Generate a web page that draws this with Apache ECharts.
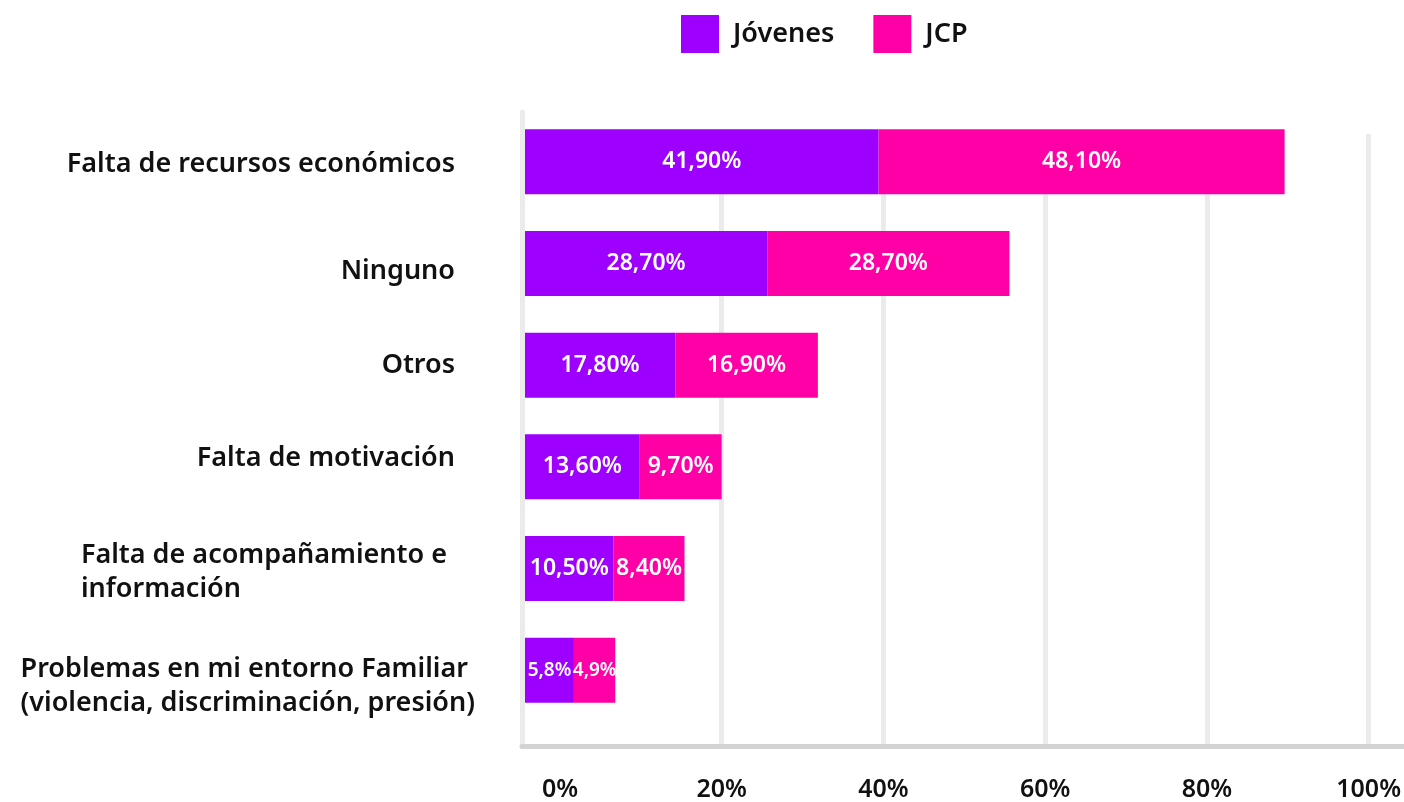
<!DOCTYPE html>
<html>
<head>
<meta charset="utf-8">
<script src="https://cdn.jsdelivr.net/npm/echarts@6/dist/echarts.min.js"></script>
<style>html,body{margin:0;padding:0;background:#fff}#c{width:1404px;height:802px}</style>
</head>
<body>
<div id="c"></div>
<script>
const categories = ['Falta de recursos económicos', 'Ninguno', 'Otros', 'Falta de motivación', 'Falta de acompañamiento e\ninformación', 'Problemas en mi entorno Familiar\n(violencia, discriminación, presión)'];
const jovenes = [41.9, 28.7, 17.8, 13.6, 10.5, 5.8];
const jcp = [48.1, 28.7, 16.9, 9.7, 8.4, 4.9];
const labelDecimals = [2, 2, 2, 2, 2, 1];
const xTickLabels = [0, 20, 40, 60, 80, 100];
const gridLineValues = [20, 40, 60, 80, 100];

// label nudges (styling only): [top, right, bottom, left] padding per category label
const catLabelPadding = [[4, 0, 0, 0], [16, 0, 0, 0], [0, 0, 0, 0], [0, 0, 18, 0], [8, 8, 0, 0], [32, -20, 0, 0]];

const FONT = '"Noto Sans", sans-serif';
const chart = echarts.init(document.getElementById('c'));

function fmt(p) {
  return p.value.toFixed(labelDecimals[p.dataIndex]).replace('.', ',') + '%';
}
function barLabel() {
  return {
    show: true, position: 'inside', color: '#fff', fontFamily: FONT, fontWeight: 600,
    fontSize: 23, formatter: fmt
  };
}
function mkData(arr) {
  return arr.map((v, i) => i === 5 ? { value: v, label: { fontSize: 19 } } : v);
}

chart.setOption({
  animation: false,
  textStyle: { fontFamily: FONT },
  legend: {
    data: ['Jóvenes', 'JCP'], left: 681, top: 15, padding: 0, icon: 'rect', itemWidth: 38, itemHeight: 38,
    itemGap: 39,
    textStyle: { fontFamily: FONT, fontSize: 27, fontWeight: 600, color: '#111', padding: [0, 0, 0, 9] }
  },
  grid: [
    { left: 525, right: 35, top: 111, height: 610 },
    { left: 522, right: 0, top: 112, bottom: 56 },
    { left: 522, right: 0, top: 134, bottom: 56 }
  ],
  xAxis: [
    { gridIndex: 0, type: 'value', min: 0, max: 100, show: false },
    {
      gridIndex: 1, type: 'value', min: 0, max: 1, position: 'bottom',
      axisLine: { show: true, onZero: false, lineStyle: { color: '#d3d3d3', width: 5 } },
      axisTick: { show: false }, axisLabel: { show: false }, splitLine: { show: false }
    },
    {
      gridIndex: 2, type: 'value', min: -4.7, max: 104.33, position: 'bottom',
      axisLine: { show: false },
      axisTick: { show: false, customValues: gridLineValues },
      splitLine: { show: true, lineStyle: { color: '#ebebeb', width: 5 } },
      axisLabel: {
        customValues: xTickLabels, formatter: '{value}%', margin: 33,
        fontFamily: FONT, fontSize: 25, fontWeight: 600, color: '#111'
      }
    }
  ],
  yAxis: [
    {
      gridIndex: 0, type: 'category', inverse: true,
      data: categories.map((c, i) => ({ value: c, textStyle: { padding: catLabelPadding[i] } })),
      axisLine: { show: false }, axisTick: { show: false }, splitLine: { show: false },
      axisLabel: {
        margin: 70, align: 'right',
        formatter: v => v.split('\n').map(l => '{l|' + l + '}').join('\n'),
        rich: { l: { align: 'left', fontFamily: FONT, fontSize: 27, fontWeight: 600, color: '#111', lineHeight: 34 } }
      }
    },
    {
      gridIndex: 1, type: 'value', min: 0, max: 1,
      axisLine: { show: true, onZero: false, lineStyle: { color: '#ebebeb', width: 5 } },
      axisTick: { show: false }, axisLabel: { show: false }, splitLine: { show: false }
    },
    {
      gridIndex: 2, type: 'value', min: 0, max: 1, show: false
    }
  ],
  series: [
    { name: 'Jóvenes', type: 'bar', stack: 's', xAxisIndex: 0, yAxisIndex: 0, barWidth: 65,
      itemStyle: { color: '#9d00ff' }, label: barLabel(), data: mkData(jovenes) },
    { name: 'JCP', type: 'bar', stack: 's', xAxisIndex: 0, yAxisIndex: 0, barWidth: 65,
      itemStyle: { color: '#ff00a6' }, label: barLabel(), data: mkData(jcp) }
  ]
});
</script>
</body>
</html>
